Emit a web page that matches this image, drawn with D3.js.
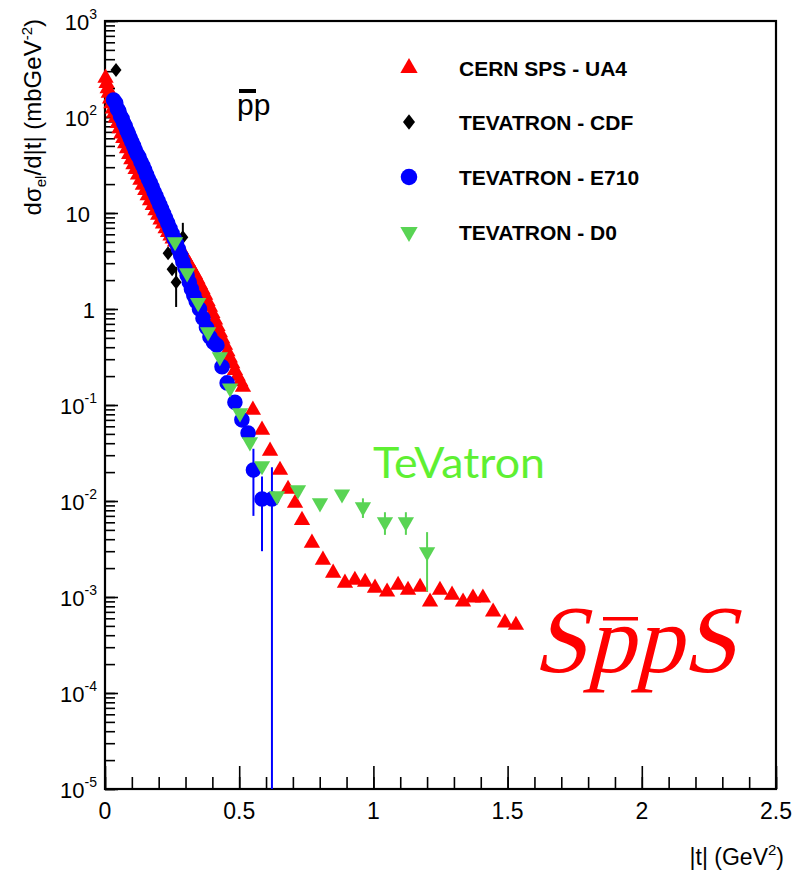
<!DOCTYPE html>
<html>
<head>
<meta charset="utf-8">
<script src="https://cdn.jsdelivr.net/npm/d3@7"></script>
<style>
  body { margin: 0; background: #fff; }
  svg { display: block; }
</style>
</head>
<body>
<svg id="chart" width="801" height="871"></svg>
<script>
// ---- data: [|t| (GeV^2), dsigma/dt (mb/GeV^2), error] ----
const ua4 = [
  [0.002, 255], [0.006, 225], [0.010, 198], [0.014, 178], [0.019, 155], [0.024, 138],
  [0.029, 122], [0.034, 110], [0.040, 98], [0.047, 86], [0.054, 76], [0.061, 67],
  [0.068, 60], [0.075, 53], [0.082, 47], [0.090, 41], [0.098, 36], [0.106, 32],
  [0.114, 28.5], [0.123, 25], [0.132, 22], [0.141, 19.5], [0.150, 17.2], [0.159, 15.2],
  [0.168, 13.5], [0.178, 12], [0.188, 10.6], [0.198, 9.5], [0.207, 8.5], [0.216, 7.7],
  [0.226, 6.9], [0.235, 6.3], [0.244, 5.8], [0.252, 5.4], [0.261, 5.0], [0.270, 4.6],
  [0.280, 4.2], [0.289, 3.85], [0.298, 3.5], [0.307, 3.15], [0.316, 2.85], [0.325, 2.55],
  [0.335, 2.3], [0.344, 2.05], [0.354, 1.8], [0.363, 1.6], [0.373, 1.4], [0.382, 1.2],
  [0.391, 1.05], [0.400, 0.9], [0.410, 0.77], [0.419, 0.66], [0.428, 0.57], [0.437, 0.49],
  [0.447, 0.42], [0.456, 0.36], [0.465, 0.31], [0.474, 0.27], [0.484, 0.23], [0.494, 0.20],
  [0.504, 0.175], [0.514, 0.154], [0.551, 0.0887], [0.585, 0.055], [0.615, 0.0332],
  [0.652, 0.021], [0.682, 0.0133], [0.708, 0.0095], [0.734, 0.0063], [0.771, 0.00365],
  [0.812, 0.00243], [0.850, 0.00178], [0.894, 0.0014], [0.931, 0.0015], [0.969, 0.00143],
  [1.006, 0.00124], [1.051, 0.00113], [1.092, 0.00133], [1.129, 0.00118], [1.174, 0.00127],
  [1.211, 0.00089], [1.248, 0.00118], [1.293, 0.00105], [1.334, 0.00089], [1.371, 0.00098],
  [1.408, 0.00098], [1.446, 0.0007], [1.490, 0.00054], [1.531, 0.00051]
];

const cdf = [
  [0.041, 309, 0], [0.112, 50, 0], [0.235, 3.8, 0], [0.250, 2.6, 0],
  [0.265, 1.9, 0.85], [0.290, 5.6, 2.3]
];

const e710 = [
  [0.032, 150, 0], [0.040, 140, 0], [0.046, 122, 0], [0.052, 115, 0], [0.058, 102, 0],
  [0.064, 96, 0], [0.070, 86, 0], [0.076, 80, 0], [0.082, 72, 0], [0.088, 66, 0],
  [0.094, 60, 0], [0.100, 55, 0], [0.107, 50, 0], [0.113, 45, 0], [0.120, 41, 0],
  [0.127, 38, 0], [0.134, 34, 0], [0.141, 31, 0], [0.148, 28, 0], [0.155, 25, 0],
  [0.162, 22.5, 0], [0.169, 20.5, 0], [0.176, 18.5, 0], [0.183, 16.5, 0], [0.190, 15, 0],
  [0.197, 13.5, 0], [0.204, 12.2, 0], [0.211, 11, 0], [0.218, 9.9, 0], [0.226, 8.8, 0],
  [0.234, 7.8, 0], [0.242, 6.9, 0], [0.250, 6.1, 0], [0.258, 5.4, 0], [0.266, 4.8, 0],
  [0.274, 4.2, 0], [0.282, 3.6, 0], [0.290, 3.1, 0], [0.298, 2.65, 0], [0.306, 2.25, 0],
  [0.314, 1.9, 0], [0.322, 1.62, 0], [0.331, 1.38, 0], [0.340, 1.2, 0], [0.352, 1.0, 0],
  [0.365, 0.80, 0], [0.378, 0.64, 0], [0.391, 0.51, 0], [0.404, 0.45, 0], [0.417, 0.42, 0],
  [0.436, 0.25, 0], [0.455, 0.17, 0], [0.484, 0.107, 0], [0.510, 0.070, 0], [0.533, 0.051, 0],
  [0.553, 0.021, 0.014], [0.585, 0.0105, 0.0075], [0.622, 0.0105, 0.012]
];

const d0 = [
  [0.261, 5.0, 0], [0.306, 2.37, 0], [0.347, 1.16, 0], [0.384, 0.575, 0], [0.428, 0.316, 0],
  [0.466, 0.150, 0], [0.503, 0.0826, 0], [0.540, 0.0412, 0], [0.585, 0.0232, 0],
  [0.641, 0.0113, 0], [0.719, 0.0130, 0], [0.801, 0.00953, 0], [0.883, 0.0118, 0],
  [0.961, 0.00866, 0.002], [1.043, 0.00604, 0.0016], [1.121, 0.00604, 0.0016],
  [1.200, 0.00294, 0.0018]
];

const xMajor = [0, 0.5, 1, 1.5, 2, 2.5];
const xMinor = d3.range(0, 26).map(i => i / 10);
const yDecades = [-5, -4, -3, -2, -1, 0, 1, 2, 3];
const legendNames = ['CERN SPS - UA4', 'TEVATRON - CDF', 'TEVATRON - E710', 'TEVATRON - D0'];

// ---- layout ----
const margin = { left: 105, top: 21, right: 25, bottom: 82 };
const W = 801, H = 871;
const iw = W - margin.left - margin.right;
const ih = H - margin.top - margin.bottom;

const svg = d3.select('#chart');
const g = svg.append('g').attr('transform', 'translate(' + margin.left + ',' + margin.top + ')');

const x = d3.scaleLinear().domain([0, 2.5]).range([0, iw]);
const y = d3.scaleLog().domain([1e-5, 1e3]).range([ih, 0]);
const yc = v => y(Math.max(v, 1e-5));

const font = "'Liberation Sans', Arial, Helvetica, sans-serif";

// ---- axes (ticks inside the frame, ROOT style) ----
g.append('g')
  .call(d3.axisLeft(y).tickValues(y.ticks()).tickSize(-10).tickFormat(''))
  .call(s => s.select('.domain').remove());
g.append('g')
  .call(d3.axisLeft(y).tickValues(yDecades.map(p => Math.pow(10, p))).tickSize(-13).tickFormat(''))
  .call(s => s.select('.domain').remove());
g.append('g').attr('transform', 'translate(0,' + ih + ')')
  .call(d3.axisBottom(x).tickValues(xMinor).tickSize(-12).tickFormat(''))
  .call(s => s.select('.domain').remove());
g.append('g').attr('transform', 'translate(0,' + ih + ')')
  .call(d3.axisBottom(x).tickValues(xMajor).tickSize(-23).tickFormat(''))
  .call(s => s.select('.domain').remove());
g.selectAll('.tick line').attr('stroke', '#000').attr('stroke-width', 1.6);

// frame
g.append('rect').attr('width', iw).attr('height', ih)
  .attr('fill', 'none').attr('stroke', '#000').attr('stroke-width', 2.2);

// y tick labels
const yLab = g.append('g').attr('font-family', font).attr('fill', '#000');
yDecades.forEach(p => {
  const t = yLab.append('text')
    .attr('y', y(Math.pow(10, p)) + 9)
    .attr('font-size', 22)
    .attr('text-anchor', 'end');
  if (p === 0) { t.attr('x', -10).text('1'); }
  else if (p === 1) { t.attr('x', -15).text('10'); }
  else {
    t.attr('x', -8);
    t.append('tspan').text('10');
    t.append('tspan').attr('dy', -11).attr('font-size', 14).text(p);
  }
});

// x tick labels
g.append('g').selectAll('text').data(xMajor).join('text')
  .attr('x', d => x(d))
  .attr('y', ih + 30)
  .attr('text-anchor', 'middle')
  .attr('font-family', font).attr('font-size', 23)
  .text(d => d3.format('~g')(d));

// axis titles
const xt = g.append('text')
  .attr('x', iw + 8).attr('y', ih + 76)
  .attr('text-anchor', 'end')
  .attr('font-family', font).attr('font-size', 23);
xt.append('tspan').text('|t| (GeV');
xt.append('tspan').attr('dy', -10).attr('font-size', 15).text('2');
xt.append('tspan').attr('dy', 10).text(')');

const yt = svg.append('text')
  .attr('transform', 'translate(41,19) rotate(-90)')
  .attr('text-anchor', 'end')
  .attr('font-family', font).attr('font-size', 24);
yt.append('tspan').text('dσ');
yt.append('tspan').attr('dy', 5).attr('font-size', 15).text('el');
yt.append('tspan').attr('dy', -5).text('/d|t| (mbGeV');
yt.append('tspan').attr('dy', -9).attr('font-size', 15).text('-2');
yt.append('tspan').attr('dy', 9).text(')');

// ---- markers ----
const diamond = {
  draw(ctx, size) {
    const h = Math.sqrt(size) * 0.72, w = h * 0.78;
    ctx.moveTo(0, -h); ctx.lineTo(w, 0); ctx.lineTo(0, h); ctx.lineTo(-w, 0); ctx.closePath();
  }
};
const triUp = d3.symbol(d3.symbolTriangle, 115);
const triDown = d3.symbol(d3.symbolTriangle, 115);
const dot = d3.symbol(d3.symbolCircle, 190);
const dia = d3.symbol(diamond, 95);

function errBars(data, color) {
  g.append('g').selectAll('line').data(data.filter(d => d[2] > 0)).join('line')
    .attr('x1', d => x(d[0])).attr('x2', d => x(d[0]))
    .attr('y1', d => yc(d[1] + d[2])).attr('y2', d => yc(d[1] - d[2]))
    .attr('stroke', color).attr('stroke-width', 2);
}

const red = '#ff0000', black = '#000000', blue = '#0000ff', green = '#59d454';

g.append('g').selectAll('path').data(ua4).join('path')
  .attr('d', triUp)
  .attr('transform', d => 'translate(' + x(d[0]) + ',' + y(d[1]) + ')')
  .attr('fill', red);

errBars(cdf, black);
g.append('g').selectAll('path').data(cdf).join('path')
  .attr('d', dia)
  .attr('transform', d => 'translate(' + x(d[0]) + ',' + y(d[1]) + ')')
  .attr('fill', black);

errBars(e710, blue);
g.append('g').selectAll('path').data(e710).join('path')
  .attr('d', dot)
  .attr('transform', d => 'translate(' + x(d[0]) + ',' + y(d[1]) + ')')
  .attr('fill', blue);

errBars(d0, green);
g.append('g').selectAll('path').data(d0).join('path')
  .attr('d', triDown)
  .attr('transform', d => 'translate(' + x(d[0]) + ',' + y(d[1]) + ') rotate(180)')
  .attr('fill', green);

// ---- legend ----
const legendMarks = [
  { gen: d3.symbol(d3.symbolTriangle, 130), rot: 0, color: red },
  { gen: d3.symbol(diamond, 115), rot: 0, color: black },
  { gen: d3.symbol(d3.symbolCircle, 215), rot: 0, color: blue },
  { gen: d3.symbol(d3.symbolTriangle, 130), rot: 180, color: green }
];
const leg = svg.append('g');
const legRow = leg.selectAll('g').data(legendNames).join('g')
  .attr('transform', (d, i) => 'translate(409,' + [68, 122, 177, 232][i] + ')');
legRow.append('path')
  .attr('d', (d, i) => legendMarks[i].gen())
  .attr('transform', (d, i) => 'rotate(' + legendMarks[i].rot + ')')
  .attr('fill', (d, i) => legendMarks[i].color);
legRow.append('text')
  .attr('x', 50).attr('y', 7.5)
  .attr('font-family', font).attr('font-weight', 'bold').attr('font-size', 21)
  .text(d => d);

// ---- annotations ----
svg.append('text')
  .attr('x', 237).attr('y', 115)
  .attr('font-family', font).attr('font-size', 30)
  .text('pp');
svg.append('rect').attr('x', 239).attr('y', 89).attr('width', 17).attr('height', 4).attr('fill', '#000');

svg.append('text')
  .attr('x', 373).attr('y', 478)
  .attr('font-family', 'Lato, sans-serif').attr('font-size', 42)
  .attr('textLength', 172).attr('lengthAdjust', 'spacingAndGlyphs')
  .attr('fill', '#5ef032')
  .text('TeVatron');

// S p-bar p S, serif glyphs slanted like math italic
svg.append('text')
  .attr('transform', 'translate(533,672) skewX(-14)')
  .attr('font-family', "'Liberation Serif', 'DejaVu Serif', serif")
  .attr('font-size', 96)
  .attr('fill', red)
  .text('SppS');
svg.append('rect').attr('x', 603).attr('y', 617).attr('width', 35).attr('height', 3.5).attr('fill', red);
</script>
</body>
</html>
